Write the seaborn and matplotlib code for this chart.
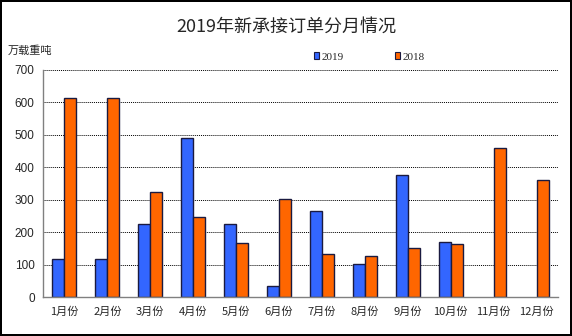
import numpy as np
import pandas as pd
import matplotlib
matplotlib.use("Agg")
import matplotlib.pyplot as plt
from matplotlib.patches import Patch
import seaborn as sns

months = ["1月份", "2月份", "3月份", "4月份", "5月份", "6月份",
          "7月份", "8月份", "9月份", "10月份", "11月份", "12月份"]
orders_2019 = [117, 117, 226, 490, 225, 33, 264, 102, 375, 171, np.nan, np.nan]
orders_2018 = [614, 614, 324, 248, 167, 302, 134, 126, 151, 164, 460, 361]
years = ["2019", "2018"]
colors = {"2019": "#3366FF", "2018": "#FF6600"}

df = pd.DataFrame({
    "month": months * 2,
    "year": ["2019"] * len(months) + ["2018"] * len(months),
    "value": orders_2019 + orders_2018,
})

sns.set_theme(style="white")
plt.rcParams["font.family"] = ["Noto Sans CJK SC", "DejaVu Sans"]

fig = plt.figure(figsize=(5.72, 3.36), dpi=100)
fig.patch.set_edgecolor("black")
fig.patch.set_linewidth(1.5)
ax = fig.add_axes([43 / 572, 1 - 297 / 336, (558 - 43) / 572, (297 - 70) / 336])

sns.barplot(data=df.dropna(), x="month", y="value", hue="year",
            order=months, hue_order=years, palette=colors,
            width=0.56, edgecolor="#1a1a40", linewidth=1.0,
            saturation=1, ax=ax, legend=False)

ax.set_ylim(0, 700)
ax.set_xlim(-0.5, 11.5)
ax.set_yticks(range(0, 701, 100))
ax.yaxis.grid(True, linestyle=(0, (1, 1)), color="black", linewidth=0.7)
ax.set_axisbelow(True)
ax.set_xlabel("")
ax.set_ylabel("")

for side in ("top", "right"):
    ax.spines[side].set_visible(False)
for side in ("left", "bottom"):
    ax.spines[side].set_color("#808080")
    ax.spines[side].set_linewidth(1.0)

ax.tick_params(axis="y", length=0, pad=6, labelsize=8.5)
for lbl in ax.get_yticklabels():
    lbl.set_fontfamily("Liberation Sans")
ax.set_xticks(range(12))
ax.set_xticklabels(months, fontsize=8)
ax.tick_params(axis="x", length=0, pad=7)
# small ticks between month groups
ax.set_xticks(np.arange(-0.5, 12.0, 1.0), minor=True)
ax.tick_params(axis="x", which="minor", length=4, color="#808080", direction="in")

fig.text(0.5, 1 - 27 / 336, "2019年新承接订单分月情况", ha="center", va="center",
         fontsize=13, fontweight="medium")
fig.text(8 / 572, 1 - 51 / 336, "万载重吨", ha="left", va="center", fontsize=8)

handles = [Patch(facecolor=colors[y], edgecolor="#1a1a40", linewidth=0.8, label=y)
           for y in years]
leg = fig.legend(handles=handles, loc="center", ncol=2,
                 bbox_to_anchor=(369 / 572, 1 - 57 / 336), frameon=False,
                 handlelength=0.5, handleheight=0.5, handletextpad=0.2,
                 columnspacing=4.6, prop={"family": "Liberation Serif", "size": 8})

fig.savefig("out.png", dpi=100)
